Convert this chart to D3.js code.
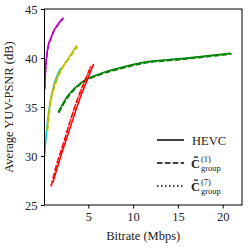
<!DOCTYPE html>
<html><head><meta charset="utf-8">
<script src="https://cdn.jsdelivr.net/npm/d3@7"></script>
<style>body{margin:0;background:#fff}svg{display:block}text{font-family:"Liberation Serif",serif;fill:#222}</style>
</head><body><svg id="c" width="248" height="249"></svg>
<script>
// data: [bitrate Mbps, YUV-PSNR dB]
const magentaHEVC = [[0.13,36.9],[0.2,38.5],[0.35,40.2],[0.55,41.4],[0.8,42.0],[1.1,42.7],[1.65,43.5],[2.2,44.1]];
const magentaG1   = [[0.14,36.8],[0.21,38.4],[0.36,40.1],[0.56,41.3],[0.82,41.95],[1.12,42.65],[1.68,43.45],[2.25,44.05]];
const magentaG7   = [[0.15,36.9],[0.22,38.5],[0.37,40.2],[0.57,41.35],[0.83,42.0],[1.13,42.7],[1.7,43.5],[2.3,44.15]];
const cyanHEVC    = [[0.12,30.0],[0.25,31.5],[0.42,33.3],[0.75,35.5],[1.2,37.4],[1.65,38.5],[1.95,39.0]];
const yellowHEVC  = [[0.4,32.6],[0.73,35.4],[1.28,37.4],[2.03,38.95],[2.77,39.97],[3.7,41.3]];
const yellowG1    = [[0.45,32.6],[0.78,35.3],[1.33,37.3],[2.08,38.9],[2.82,39.9],[3.8,41.2]];
const yellowG7    = [[0.42,32.6],[0.75,35.35],[1.3,37.35],[2.05,38.9],[2.8,39.95],[3.75,41.25]];
const greenHEVC   = [[1.65,34.5],[2.6,36.0],[4.07,37.4],[6.3,38.4],[8.98,39.1],[11.2,39.56],[15.7,39.97],[20.9,40.48]];
const greenG1     = [[1.7,34.4],[2.65,35.9],[4.1,37.3],[6.35,38.3],[9.0,39.0],[11.2,39.45],[15.7,39.87],[21.0,40.4]];
const greenG7     = [[1.68,34.45],[2.62,35.95],[4.08,37.35],[6.32,38.35],[9.0,39.05],[11.2,39.5],[15.7,39.92],[21.0,40.44]];
const redHEVC     = [[1.05,27.3],[1.8,29.6],[2.55,31.7],[3.12,33.3],[4.07,35.9],[5.07,38.2],[5.6,39.4]];
const redG1       = [[0.85,26.9],[1.55,29.4],[2.3,31.5],[2.85,33.2],[3.8,35.8],[4.8,38.1],[5.3,39.2]];
const redG7       = [[0.87,26.95],[1.57,29.45],[2.32,31.55],[2.87,33.25],[3.82,35.85],[4.82,38.15],[5.32,39.25]];
const xTicks = [5,10,15,20];
const yTicks = [25,30,35,40,45];
const legendLabels = ["HEVC","(1)","(7)"];

const series = [
  {d:magentaHEVC,c:"#bf00bf",s:"solid"},{d:magentaG1,c:"#bf00bf",s:"dash"},{d:magentaG7,c:"#bf00bf",s:"dot"},
  {d:cyanHEVC,c:"#00bfbf",s:"solid"},
  {d:yellowHEVC,c:"#bfbf00",s:"solid"},{d:yellowG1,c:"#bfbf00",s:"dash"},{d:yellowG7,c:"#bfbf00",s:"dot"},
  {d:greenHEVC,c:"#008000",s:"solid"},{d:greenG1,c:"#008000",s:"dash"},{d:greenG7,c:"#008000",s:"dot"},
  {d:redHEVC,c:"#ff0000",s:"solid"},{d:redG1,c:"#ff0000",s:"dash"},{d:redG7,c:"#ff0000",s:"dot"}
];
const dashes = {solid:null,dash:"5.5,2.4",dot:"1.5,2.5"};

const svg = d3.select("#c");
const L=44.5,R=242,T=9,B=205;
const x = d3.scaleLinear().domain([0.11,22.15]).range([L,R]);
const y = d3.scaleLinear().domain([25,45]).range([B,T]);

const g = svg.append("g");
const line = d3.line().x(d=>x(d[0])).y(d=>y(d[1])).curve(d3.curveMonotoneX);
series.forEach(s=>{
  g.append("path").attr("d",line(s.d)).attr("fill","none").attr("stroke",s.c)
   .attr("stroke-width",1.5).attr("stroke-dasharray",dashes[s.s]);
});

svg.append("rect").attr("x",L).attr("y",T).attr("width",R-L).attr("height",B-T)
  .attr("fill","none").attr("stroke","#000").attr("stroke-width",1);

const fs=12.5;
const ff='"Liberation Serif",serif';
const xa = svg.append("g").attr("transform",`translate(0,${B})`)
  .call(d3.axisBottom(x).tickValues(xTicks).tickSize(3.5).tickPadding(3.5).tickFormat(d3.format("d")));
const ya = svg.append("g").attr("transform",`translate(${L},0)`)
  .call(d3.axisLeft(y).tickValues(yTicks).tickSize(3.5).tickPadding(3.5).tickFormat(d3.format("d")));
[xa,ya].forEach(a=>{a.select(".domain").remove();
  a.selectAll("text").style("font-family",ff).style("font-size",fs+"px").attr("fill","#222");
  a.selectAll("line").attr("stroke","#000");});

svg.append("text").attr("x",(L+R)/2).attr("y",240).attr("text-anchor","middle").style("font-size",fs+"px").text("Bitrate (Mbps)");
svg.append("text").attr("transform",`translate(13,${(T+B)/2}) rotate(-90)`).attr("text-anchor","middle").style("font-size",fs+"px").text("Average YUV-PSNR (dB)");

const ly=[140,163,186];
const lg = svg.append("g");
["solid","dash","dot"].forEach((s,i)=>{
  lg.append("line").attr("x1",157).attr("x2",184).attr("y1",ly[i]).attr("y2",ly[i])
    .attr("stroke","#000").attr("stroke-width",1.5).attr("stroke-dasharray",dashes[s]);
});
lg.append("text").attr("x",192).attr("y",ly[0]+4.5).style("font-size",fs+"px").text(legendLabels[0]);
[1,2].forEach(i=>{
  const t=lg.append("text").attr("x",191).attr("y",ly[i]+4.5).style("font-size",fs+"px");
  t.append("tspan").style("font-weight","bold").text("C\u0303");
  lg.append("text").attr("x",201).attr("y",ly[i]+7.5).style("font-size","8.5px").text("group");
  lg.append("text").attr("x",201).attr("y",ly[i]-1).style("font-size","8.5px").text(legendLabels[i]);
});
</script></body></html>
